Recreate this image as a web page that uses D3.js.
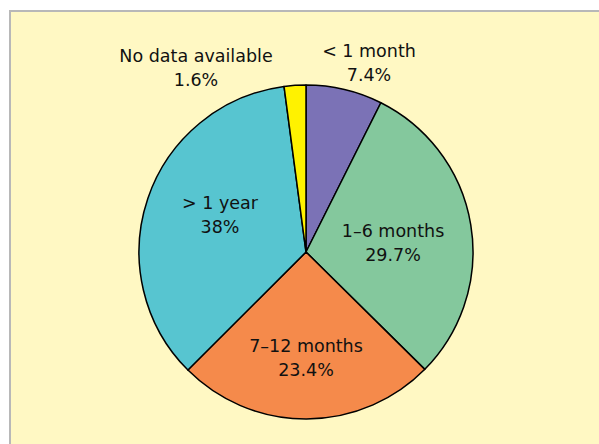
<!DOCTYPE html>
<html>
<head>
<meta charset="utf-8">
<script src="https://cdn.jsdelivr.net/npm/d3@7"></script>
<style>
  body { margin: 0; background: #fff; }
  svg { display: block; }
</style>
</head>
<body>
<svg id="chart"></svg>
<script>
// data
const categories = ['< 1 month', '1\u20136 months', '7\u201312 months', '> 1 year', 'No data available'];
// slice sizes as drawn in the picture (the printed labels don't quite add up to them)
const shares = [7.4, 30.0, 25.1, 35.4, 2.1];
const shareLabels = ['7.4%', '29.7%', '23.4%', '38%', '1.6%'];
const colors = ['#7B72B6', '#84C89D', '#F58A4B', '#57C5D0', '#FFF200'];

// layout
const width = 599, height = 444;
const cx = 306, cy = 252, radius = 167;
// label centres relative to the pie centre (Excel puts them by hand)
const labelOffsets = [[63, -195], [87, -15], [0, 100], [-86, -43], [-110, -190]];

const svg = d3.select('#chart')
    .attr('width', width)
    .attr('height', height);

// chart area
svg.append('rect')
    .attr('x', 10)
    .attr('y', 11)
    .attr('width', width + 20)
    .attr('height', height + 20)
    .attr('fill', '#FFF8C3')
    .attr('stroke', '#B8B8B8')
    .attr('stroke-width', 2);

const pie = d3.pie().sort(null).value(d => d);
const arc = d3.arc().innerRadius(0).outerRadius(radius);

const g = svg.append('g').attr('transform', `translate(${cx},${cy})`);

g.selectAll('path')
    .data(pie(shares))
    .enter()
    .append('path')
    .attr('d', arc)
    .attr('fill', (d, i) => colors[i])
    .attr('stroke', '#000')
    .attr('stroke-width', 1.5)
    .attr('stroke-linejoin', 'round');

// labels
const labels = g.selectAll('.lbl')
    .data(categories)
    .enter()
    .append('text')
    .attr('class', 'lbl')
    .attr('text-anchor', 'middle')
    .attr('font-family', 'DejaVu Sans, sans-serif')
    .attr('font-size', '17.5px')
    .attr('fill', '#111')
    .attr('transform', (d, i) => `translate(${labelOffsets[i][0]},${labelOffsets[i][1]})`);

labels.append('tspan')
    .attr('x', 0)
    .attr('y', 0)
    .text(d => d);

labels.append('tspan')
    .attr('x', 0)
    .attr('y', 23.5)
    .text((d, i) => shareLabels[i]);
</script>
</body>
</html>
